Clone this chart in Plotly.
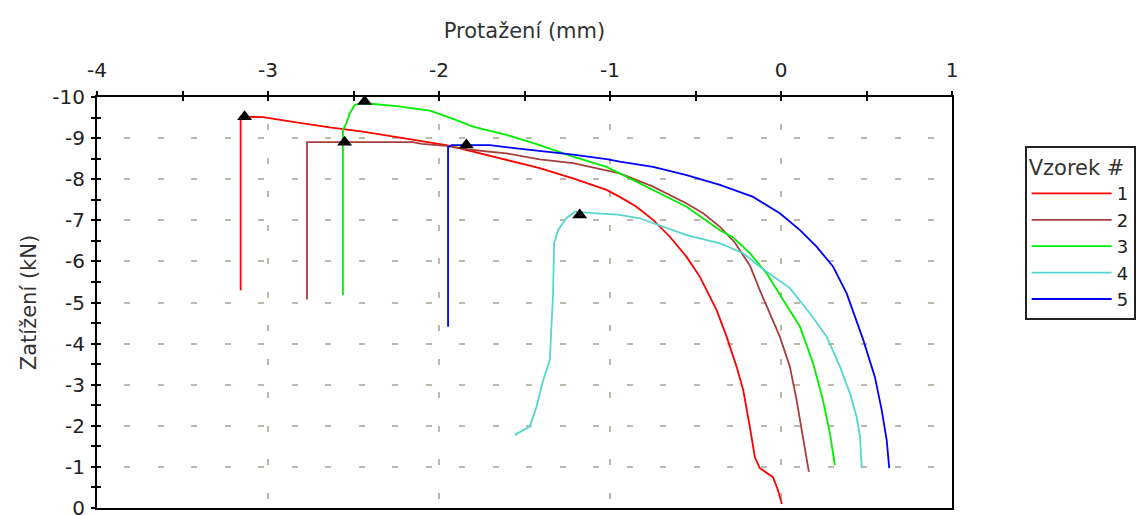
import plotly.graph_objects as go

# ---------------- data ----------------
series_names = ["1", "2", "3", "4", "5"]
series_colors = ["#FF0000", "#A83E3E", "#00EE00", "#55D6D0", "#0000FF"]

x1 = [-3.160, -3.160, -3.137, -3.030, -2.834, -2.640, -2.445, -2.249, -2.054, -1.957,
      -1.801, -1.606, -1.411, -1.216, -1.020, -0.943, -0.845, -0.748, -0.650, -0.552,
      -0.504, -0.475, -0.377, -0.318, -0.260, -0.221, -0.182, -0.153, -0.124, -0.047,
      -0.018, 0.005]
y1 = [-5.30, -9.52, -9.52, -9.51, -9.38, -9.26, -9.16, -9.03, -8.91, -8.83,
      -8.67, -8.47, -8.27, -8.02, -7.74, -7.57, -7.33, -7.01, -6.60, -6.11,
      -5.83, -5.63, -4.82, -4.17, -3.44, -2.87, -1.97, -1.24, -0.97, -0.75,
      -0.44, -0.10]

x2 = [-2.772, -2.772, -2.154, -2.100, -1.957, -1.801, -1.606, -1.411, -1.216, -1.020,
      -0.943, -0.748, -0.552, -0.455, -0.357, -0.270, -0.182, -0.124, -0.065, -0.007,
      0.052, 0.091, 0.121, 0.150, 0.163]
y2 = [-5.07, -8.90, -8.90, -8.86, -8.81, -8.71, -8.63, -8.48, -8.39, -8.22,
      -8.14, -7.82, -7.41, -7.17, -6.84, -6.46, -5.90, -5.30, -4.74, -4.17,
      -3.44, -2.63, -1.90, -1.17, -0.88]

x3 = [-2.562, -2.562, -2.542, -2.522, -2.493, -2.454, -2.386, -2.249, -2.054, -1.937,
      -1.801, -1.606, -1.411, -1.216, -1.020, -0.943, -0.748, -0.552, -0.357, -0.280,
      -0.182, -0.084, 0.013, 0.111, 0.188, 0.245, 0.286, 0.315]
y3 = [-5.18, -9.20, -9.36, -9.60, -9.81, -9.85, -9.83, -9.78, -9.67, -9.50,
      -9.28, -9.08, -8.83, -8.55, -8.30, -8.14, -7.74, -7.33, -6.76, -6.58,
      -6.20, -5.71, -5.06, -4.41, -3.52, -2.63, -1.82, -1.04]

x4 = [-1.557, -1.469, -1.430, -1.391, -1.352, -1.342, -1.333, -1.327, -1.304, -1.255,
      -1.206, -1.079, -0.953, -0.826, -0.748, -0.552, -0.357, -0.221, -0.124, 0.052,
      0.169, 0.267, 0.345, 0.403, 0.442, 0.462, 0.472]
y4 = [-1.78, -1.98, -2.46, -3.11, -3.60, -4.49, -5.22, -6.44, -6.76, -7.05,
      -7.21, -7.17, -7.14, -7.05, -6.93, -6.64, -6.44, -6.20, -5.87, -5.35,
      -4.74, -4.17, -3.44, -2.79, -2.22, -1.74, -0.97]

x5 = [-1.947, -1.947, -1.927, -1.703, -1.547, -1.352, -1.216, -1.020, -0.943, -0.748,
      -0.552, -0.357, -0.163, -0.007, 0.111, 0.208, 0.305, 0.384, 0.442, 0.481,
      0.530, 0.549, 0.589, 0.618, 0.633]
y5 = [-4.41, -8.78, -8.83, -8.83, -8.75, -8.67, -8.60, -8.49, -8.43, -8.30,
      -8.10, -7.86, -7.57, -7.17, -6.76, -6.36, -5.87, -5.22, -4.57, -4.09,
      -3.44, -3.19, -2.38, -1.65, -0.97]

peak_x = [-3.137, -2.552, -2.435, -1.177, -1.840]
peak_y = [-9.52, -8.90, -9.89, -7.13, -8.83]

x_ticks = [-4, -3, -2, -1, 0, 1]
x_tick_labels = ["-4", "-3", "-2", "-1", "0", "1"]
x_minor_ticks = [-3.5, -2.5, -1.5, -0.5, 0.5]
y_ticks = [-10, -9, -8, -7, -6, -5, -4, -3, -2, -1, 0]
y_tick_labels = ["-10", "-9", "-8", "-7", "-6", "-5", "-4", "-3", "-2", "-1", "0"]
y_minor_ticks = [-9.5, -8.5, -7.5, -6.5, -5.5, -4.5, -3.5, -2.5, -1.5, -0.5]

x_title = "Protažení (mm)"
y_title = "Zatížení (kN)"
legend_title = "Vzorek #"

# ---------------- figure ----------------
FONT = "DejaVu Sans"
fig = go.Figure()

xs = [x1, x2, x3, x4, x5]
ys = [y1, y2, y3, y4, y5]
for name, color, xv, yv in zip(series_names, series_colors, xs, ys):
    fig.add_trace(go.Scatter(x=xv, y=yv, mode="lines", name=name,
                             line=dict(color=color, width=1.8)))

fig.add_trace(go.Scatter(x=peak_x, y=peak_y, mode="markers", showlegend=False,
                         marker=dict(symbol="triangle-up", size=13, color="black")))

# helper trace so overlay axes (inner half of crossing ticks) are drawn
fig.add_trace(go.Scatter(x=[], y=[], xaxis="x2", yaxis="y2", showlegend=False,
                         hoverinfo="skip"))

grid = dict(showgrid=True, gridcolor="#BDB9AA", gridwidth=1.6, griddash="0px,27px,6px,0.5px")

fig.update_layout(
    width=1136, height=516,
    margin=dict(l=97, r=184, t=97, b=8, autoexpand=False),
    paper_bgcolor="white", plot_bgcolor="white",
    font=dict(family=FONT, size=20, color="#222222"),
    xaxis=dict(
        range=[-4, 1], side="top", tickmode="array", tickvals=x_ticks, ticktext=x_tick_labels,
        ticks="outside", ticklen=4, tickwidth=2, tickcolor="black",
        minor=dict(tickmode="array", tickvals=x_minor_ticks, ticks="outside", ticklen=4,
                   tickwidth=2, tickcolor="black", showgrid=False),
        showline=True, linecolor="black", linewidth=2, mirror=True,
        zeroline=False, ticklabelstandoff=6, ticklabeloverflow="allow",
        tickfont=dict(size=20, color="#222222"),
        title=dict(text=x_title, font=dict(size=21, color="#333333"), standoff=14),
        **grid,
    ),
    yaxis=dict(
        range=[0, -10], tickmode="array", tickvals=y_ticks, ticktext=y_tick_labels,
        ticks="outside", ticklen=4, tickwidth=2, tickcolor="black",
        minor=dict(tickmode="array", tickvals=y_minor_ticks, ticks="outside", ticklen=4,
                   tickwidth=2, tickcolor="black", showgrid=False),
        showline=True, linecolor="black", linewidth=2, mirror=True,
        zeroline=False, ticklabelstandoff=2, ticklabeloverflow="allow",
        tickfont=dict(size=20, color="#222222"),
        title=dict(text=y_title, font=dict(size=21, color="#333333"), standoff=10),
        **grid,
    ),
    xaxis2=dict(
        overlaying="x", side="top", anchor="y", range=[-4, 1], tickmode="array",
        tickvals=x_ticks, ticks="inside", ticklen=4, tickwidth=2, tickcolor="black",
        minor=dict(tickmode="array", tickvals=x_minor_ticks, ticks="inside", ticklen=4,
                   tickwidth=2, tickcolor="black", showgrid=False),
        showticklabels=False, showgrid=False, zeroline=False, showline=False,
    ),
    yaxis2=dict(
        overlaying="y", side="left", anchor="x", range=[0, -10], tickmode="array",
        tickvals=y_ticks, ticks="inside", ticklen=4, tickwidth=2, tickcolor="black",
        minor=dict(tickmode="array", tickvals=y_minor_ticks, ticks="inside", ticklen=4,
                   tickwidth=2, tickcolor="black", showgrid=False),
        showticklabels=False, showgrid=False, zeroline=False, showline=False,
    ),
    legend=dict(
        x=1.085, y=0.881, xanchor="left", yanchor="top",
        bgcolor="white", bordercolor="#222222", borderwidth=2,
        title=dict(text=legend_title, font=dict(size=21, color="#333333")),
        font=dict(size=18, color="#222222"),
        itemwidth=80, tracegroupgap=0,
    ),
    showlegend=True,
)

fig.write_html("out.html")
